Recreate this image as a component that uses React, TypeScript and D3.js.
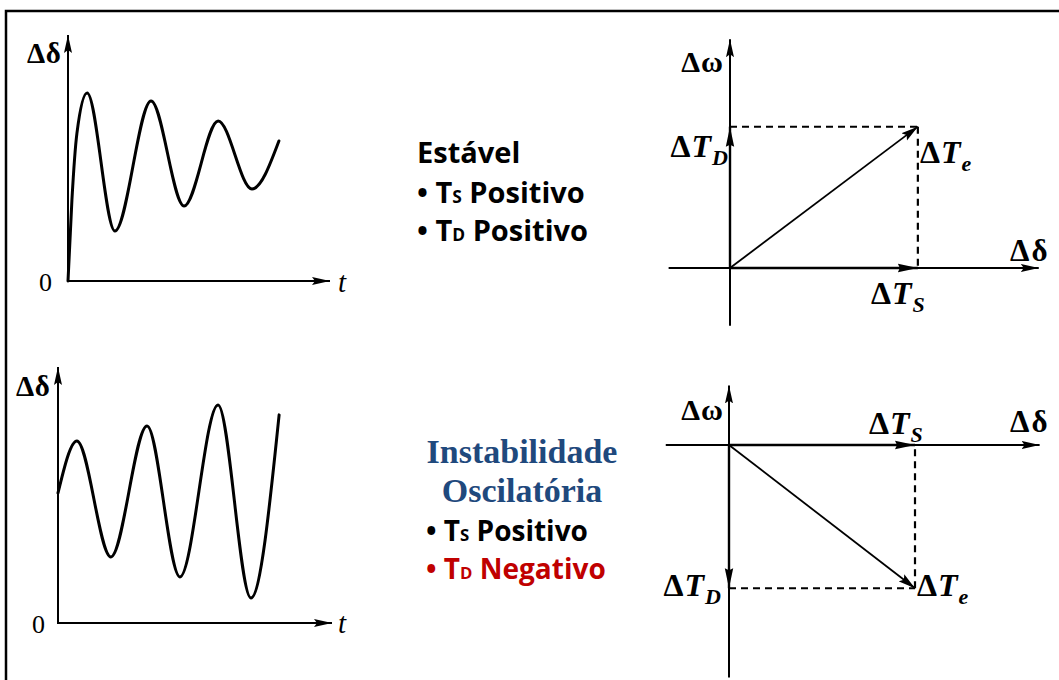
import React from 'react';
import * as d3 from 'd3';

// ---------- data ----------
// time responses (t in arbitrary units 0..10, Δδ in arbitrary units 0..10)
const stableT = [0, 0.15, 0.34, 0.73, 1.79, 3.17, 4.43, 5.73, 7.02, 8.05];
const stableDelta = [0, 3.3, 6.0, 7.64, 2.03, 7.32, 3.05, 6.5, 3.74, 5.69];
const unstableT = [0, 0.69, 1.93, 3.25, 4.45, 5.84, 7.04, 8.07];
const unstableDelta = [5.08, 7.11, 2.58, 7.7, 1.8, 8.52, 0.98, 8.13];
const timeDomain = [0, 10];
const deltaDomain = [0, 10];

// phasor components (ΔTS along Δδ, ΔTD along Δω)
const stableTS = 1.01;
const stableTD = 0.76;
const unstableTS = 1.0;
const unstableTD = -0.77;
// axis extents of phasor diagrams [min, max]
const stableHAxis = [-0.33, 1.66];
const stableVAxis = [-0.31, 1.23];
const unstableHAxis = [-0.34, 1.67];
const unstableVAxis = [-1.25, 0.32];

// texts
const stableTitle = 'Estável';
const unstableTitle = ['Instabilidade', 'Oscilatória'];
const bulletsStable = [
  { main: 'T', sub: 'S', rest: ' Positivo' },
  { main: 'T', sub: 'D', rest: ' Positivo' },
];
const bulletsUnstable = [
  { main: 'T', sub: 'S', rest: ' Positivo' },
  { main: 'T', sub: 'D', rest: ' Negativo' },
];

// ---------- styles ----------
const SERIF = '"Liberation Serif", "Times New Roman", serif';
const SANS = '"Open Sans", "Noto Sans", sans-serif';
const BLUE = '#1F497D';
const RED = '#C00000';

type TimeProps = {
  ox: number; oy: number; xEnd: number; yEnd: number;
  t: number[]; v: number[];
  deltaPos: [number, number]; zeroPos: [number, number]; tPos: [number, number];
};

function TimePanel({ ox, oy, xEnd, yEnd, t, v, deltaPos, zeroPos, tPos }: TimeProps) {
  const xs = d3.scaleLinear().domain(timeDomain).range([ox, xEnd]);
  const ys = d3.scaleLinear().domain(deltaDomain).range([oy, yEnd]);
  const pts: [number, number][] = t.map((tt, i) => [tt, v[i]]);
  const line = d3
    .line<[number, number]>()
    .x((d) => xs(d[0]))
    .y((d) => ys(d[1]))
    .curve(d3.curveMonotoneX);
  return (
    <g>
      <line x1={xs(0)} y1={ys(0) + 1} x2={xs(0)} y2={ys(deltaDomain[1])} stroke="#000" strokeWidth={2} markerEnd="url(#axisArrow)" />
      <line x1={xs(0) - 1} y1={ys(0)} x2={xs(timeDomain[1])} y2={ys(0)} stroke="#000" strokeWidth={2} markerEnd="url(#axisArrow)" />
      <path d={line(pts) || ''} fill="none" stroke="#000" strokeWidth={3} strokeLinejoin="round" strokeLinecap="round" />
      <text x={deltaPos[0]} y={deltaPos[1]} fontFamily={SERIF} fontSize={29} fontWeight="bold" letterSpacing={0.5}>Δδ</text>
      <text x={zeroPos[0]} y={zeroPos[1]} fontFamily={SERIF} fontSize={26}>0</text>
      <text x={tPos[0]} y={tPos[1]} fontFamily={SERIF} fontSize={29} fontStyle="italic">t</text>
    </g>
  );
}

type Lbl = { main: string; sub?: string; x: number; y: number; anchor?: string };

function Label({ main, sub, x, y, anchor }: Lbl) {
  return (
    <text x={x} y={y} fontFamily={SERIF} fontSize={32} fontWeight="bold" textAnchor={anchor || 'start'} letterSpacing={1}>
      <tspan>Δ</tspan>
      <tspan fontStyle="italic">{main}</tspan>
      {sub && (
        <tspan fontStyle="italic" fontSize={22} dy={8}>{sub}</tspan>
      )}
    </text>
  );
}

type PhasorProps = {
  ox: number; oy: number; k: number;
  hAxis: number[]; vAxis: number[];
  ts: number; td: number;
  omegaPos: [number, number]; deltaPos: [number, number];
  tsPos: [number, number]; tdPos: [number, number]; tePos: [number, number];
};

function PhasorPanel({ ox, oy, k, hAxis, vAxis, ts, td, omegaPos, deltaPos, tsPos, tdPos, tePos }: PhasorProps) {
  const xs = d3.scaleLinear().domain([0, 1]).range([ox, ox + k]);
  const ys = d3.scaleLinear().domain([0, 1]).range([oy, oy - k]);
  return (
    <g>
      {/* dashed projections */}
      <line x1={xs(0)} y1={ys(td)} x2={xs(ts)} y2={ys(td)} stroke="#000" strokeWidth={2} strokeDasharray="7,5" />
      <line x1={xs(ts)} y1={ys(td)} x2={xs(ts)} y2={ys(0)} stroke="#000" strokeWidth={2.2} strokeDasharray="7,5" />
      {/* axes */}
      <line x1={xs(hAxis[0])} y1={ys(0)} x2={xs(hAxis[1])} y2={ys(0)} stroke="#000" strokeWidth={2} markerEnd="url(#axisArrow)" />
      <line x1={xs(0)} y1={ys(vAxis[0])} x2={xs(0)} y2={ys(vAxis[1])} stroke="#000" strokeWidth={2} markerEnd="url(#axisArrow)" />
      {/* component phasors */}
      <line x1={xs(0)} y1={ys(0)} x2={xs(ts)} y2={ys(0)} stroke="#000" strokeWidth={2.4} markerEnd="url(#compArrow)" />
      <line x1={xs(0)} y1={ys(0)} x2={xs(0)} y2={ys(td)} stroke="#000" strokeWidth={2.4} markerEnd="url(#compArrow)" />
      {/* resultant */}
      <line x1={xs(0)} y1={ys(0)} x2={xs(ts)} y2={ys(td)} stroke="#000" strokeWidth={1.8} markerEnd="url(#vecArrow)" />
      {/* labels */}
      <text x={omegaPos[0]} y={omegaPos[1]} fontFamily={SERIF} fontSize={30} fontWeight="bold" textAnchor="end" letterSpacing={1}>Δω</text>
      <text x={deltaPos[0]} y={deltaPos[1]} fontFamily={SERIF} fontSize={31} fontWeight="bold" letterSpacing={2}>Δδ</text>
      <Label main="T" sub="S" x={tsPos[0]} y={tsPos[1]} />
      <Label main="T" sub="D" x={tdPos[0]} y={tdPos[1]} anchor="end" />
      <Label main="T" sub="e" x={tePos[0]} y={tePos[1]} />
    </g>
  );
}

function Bullet({ x, y, b, color, size }: { x: number; y: number; b: { main: string; sub: string; rest: string }; color: string; size: number }) {
  return (
    <text x={x} y={y} fontFamily={SANS} fontSize={size} fontWeight="bold" fill={color}>
      <tspan>{'• '}</tspan>
      <tspan>{b.main}</tspan>
      <tspan fontSize={size * 0.6}>{b.sub}</tspan>
      <tspan>{b.rest}</tspan>
    </text>
  );
}

export default function App() {
  return (
    <svg
      width={1059}
      height={680}
      style={{ position: 'absolute', left: 0, top: 0, background: '#fff' }}
    >
      <defs>
        <marker id="axisArrow" markerUnits="userSpaceOnUse" markerWidth={20} markerHeight={10} refX={18} refY={5} orient="auto">
          <path d="M0,1 L18,5 L0,9 L3,5 Z" fill="#000" />
        </marker>
        <marker id="compArrow" markerUnits="userSpaceOnUse" markerWidth={22} markerHeight={10} refX={20} refY={5} orient="auto">
          <path d="M0,0.8 L20,5 L0,9.2 L2,5 Z" fill="#000" />
        </marker>
        <marker id="vecArrow" markerUnits="userSpaceOnUse" markerWidth={20} markerHeight={10} refX={17} refY={5} orient="auto">
          <path d="M0,0.5 L17,5 L0,9.5 L3,5 Z" fill="#000" />
        </marker>
      </defs>
      <rect x={0} y={0} width={1059} height={680} fill="#fff" />
      {/* frame */}
      <path d="M6,680 L6,11 L1059,11" fill="none" stroke="#000" strokeWidth={2.5} />

      <TimePanel
        ox={68} oy={281} xEnd={330} yEnd={35}
        t={stableT} v={stableDelta}
        deltaPos={[27, 63]} zeroPos={[39, 291]} tPos={[338, 292]}
      />
      <TimePanel
        ox={58} oy={623} xEnd={332} yEnd={367}
        t={unstableT} v={unstableDelta}
        deltaPos={[16, 396]} zeroPos={[32, 633]} tPos={[338, 633]}
      />

      <PhasorPanel
        ox={730} oy={268} k={186}
        hAxis={stableHAxis} vAxis={stableVAxis}
        ts={stableTS} td={stableTD}
        omegaPos={[724, 72]} deltaPos={[1010, 261]}
        tsPos={[871, 304]} tdPos={[729, 157]} tePos={[920, 163]}
      />
      <PhasorPanel
        ox={729} oy={445} k={186}
        hAxis={unstableHAxis} vAxis={unstableVAxis}
        ts={unstableTS} td={unstableTD}
        omegaPos={[724, 420]} deltaPos={[1010, 432]}
        tsPos={[869, 434]} tdPos={[722, 596]} tePos={[917, 596]}
      />

      {/* middle text */}
      <text x={417} y={163} fontFamily={SANS} fontSize={29} fontWeight="bold">{stableTitle}</text>
      <Bullet x={417} y={203} b={bulletsStable[0]} color="#000" size={29} />
      <Bullet x={417} y={241} b={bulletsStable[1]} color="#000" size={29} />

      <text x={522} y={463} fontFamily={SERIF} fontSize={34} fontWeight="bold" fill={BLUE} textAnchor="middle">{unstableTitle[0]}</text>
      <text x={522} y={502} fontFamily={SERIF} fontSize={34} fontWeight="bold" fill={BLUE} textAnchor="middle">{unstableTitle[1]}</text>
      <Bullet x={426} y={541} b={bulletsUnstable[0]} color="#000" size={28} />
      <Bullet x={426} y={579} b={bulletsUnstable[1]} color={RED} size={28} />
    </svg>
  );
}
